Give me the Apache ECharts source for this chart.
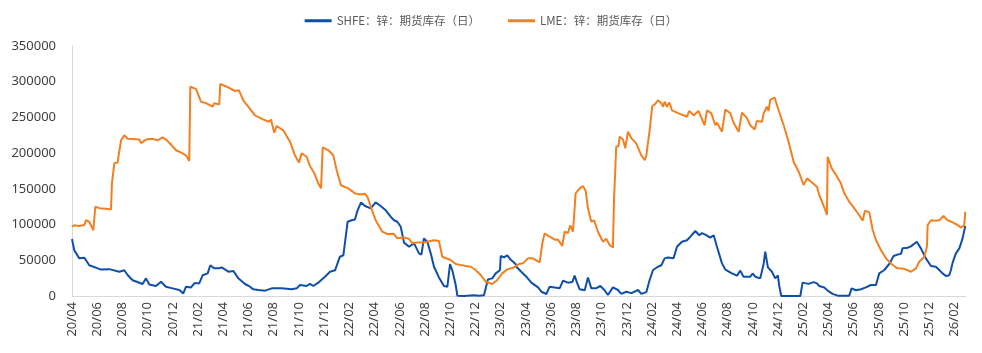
<!DOCTYPE html>
<html>
<head>
<meta charset="utf-8">
<script src="https://cdn.jsdelivr.net/npm/echarts@6/dist/echarts.min.js"></script>
<style>
  html, body { margin: 0; padding: 0; background: #fff; }
  #chart { width: 982px; height: 353px; }
</style>
</head>
<body>
<div id="chart"></div>
<script>
// 序列名称
const seriesNames = ['SHFE：锌：期货库存（日）', 'LME：锌：期货库存（日）'];

// x = 自 2020/04 起的月数, y = 吨
const shfeData = [
  [0, 79800], [0.18, 64000], [0.58, 52700], [0.98, 53600], [1.37, 43000], [2.04, 38700], [2.3, 37000],
  [2.96, 37600], [3.75, 34000], [4.15, 36000], [4.41, 29400], [4.81, 22000], [5.6, 16800], [5.87, 24700],
  [6.13, 16000], [6.66, 14000], [7.06, 20000], [7.45, 13000], [7.98, 10700], [8.51, 8400], [8.83, 3700],
  [9.04, 13000], [9.44, 12000], [9.7, 17700], [10.1, 18000], [10.36, 29000], [10.76, 31700], [10.97, 43000],
  [11.28, 38700], [11.68, 39000], [11.87, 40000], [12.4, 34000], [12.8, 35000], [13.19, 24700], [13.72, 16800],
  [14.12, 13000], [14.38, 9300], [14.78, 8400], [15.31, 7500], [15.84, 10700], [16.63, 10700], [17.42, 9500],
  [17.82, 10700], [18.08, 15400], [18.61, 14000], [18.87, 17000], [19.14, 14000], [19.53, 18700], [20.06, 27000],
  [20.46, 34000], [20.86, 36000], [21.25, 55000], [21.52, 57000], [21.86, 104000], [22.18, 106000], [22.44, 107000],
  [22.65, 120000], [22.92, 131000], [23.24, 126000], [23.69, 122700], [24.08, 131000], [24.48, 126000],
  [24.88, 120000], [25.27, 111000], [25.54, 106000], [25.8, 104000], [26.07, 97000], [26.33, 74700], [26.73, 69000],
  [27.13, 73700], [27.52, 59700], [27.71, 58000], [27.91, 80700], [28.18, 76000], [28.45, 59700], [28.71, 41000],
  [29.1, 26000], [29.5, 14000], [29.77, 13000], [29.98, 44800], [30.16, 36000], [30.43, 15400], [30.56, 500],
  [31.09, 0], [31.88, 1000], [32.01, 3700], [32.28, 500], [32.67, 1000], [32.99, 23300], [33.33, 24700],
  [33.6, 31700], [33.94, 36000], [34.0, 56000], [34.25, 54000], [34.52, 57000], [34.78, 51000], [35.18, 44800],
  [35.24, 41000], [35.63, 34000], [36.03, 27000], [36.43, 18700], [36.96, 12000], [37.22, 6000], [37.62, 2800],
  [37.88, 13000], [38.28, 12000], [38.68, 11000], [38.94, 21500], [39.33, 18700], [39.68, 19500], [39.86, 28500],
  [40.05, 18700], [40.26, 9300], [40.66, 8000], [40.92, 26000], [41.18, 11000], [41.58, 11000], [41.9, 14000],
  [42.24, 8000], [42.5, 1400], [42.9, 12000], [43.3, 8400], [43.56, 3000], [43.96, 6000], [44.36, 4000],
  [44.89, 8400], [45.15, 3000], [45.55, 5500], [45.81, 22400], [46.08, 36400], [46.47, 41000], [46.74, 43000],
  [47.0, 52700], [47.26, 54000], [47.71, 53000], [47.98, 69000], [48.37, 76000], [48.77, 78000], [49.04, 83000],
  [49.43, 91000], [49.75, 85000], [49.96, 88000], [50.22, 86000], [50.62, 81700], [50.89, 85000], [51.15, 69000],
  [51.55, 45700], [51.81, 37000], [52.34, 31700], [52.74, 28500], [53.0, 35500], [53.26, 27000], [53.79, 27000],
  [53.98, 31500], [54.19, 27000], [54.58, 24700], [54.85, 44800], [54.98, 62000], [55.19, 40000], [55.51, 34000],
  [55.77, 24700], [55.98, 29000], [56.09, 14000], [56.25, 0], [57.76, 0], [57.94, 18700], [58.42, 17000],
  [58.81, 19500], [59.08, 17700], [59.26, 14000], [59.66, 12000], [59.93, 7500], [60.32, 3000], [60.72, 500],
  [61.64, 500], [61.83, 10700], [62.17, 8000], [62.57, 9500], [62.96, 12000], [63.36, 15400], [63.76, 15400],
  [64.02, 31700], [64.42, 36400], [64.81, 44800], [65.16, 56000], [65.47, 58000], [65.74, 59000], [65.87, 66700],
  [66.26, 67500], [66.53, 69500], [67.0, 76000], [67.32, 66700], [67.72, 52700], [68.12, 42000], [68.51, 41000],
  [68.78, 36400], [69.04, 31700], [69.31, 28000], [69.57, 29000], [69.7, 36000], [69.84, 46700], [70.1, 59700],
  [70.37, 66700], [70.63, 80700], [70.84, 98000]
];

const lmeData = [
  [0, 97000], [0.18, 99000], [0.58, 98000], [0.98, 99500], [1.11, 106000], [1.37, 104000], [1.69, 92000],
  [1.85, 125000], [2.17, 123000], [2.7, 122000], [3.09, 121000], [3.17, 158000], [3.36, 186000], [3.62, 187000],
  [3.7, 197000], [3.89, 218000], [4.15, 225000], [4.41, 220000], [5.34, 219000], [5.47, 214000], [5.87, 219000],
  [6.39, 220000], [6.79, 218000], [7.19, 222000], [7.45, 219000], [7.85, 212000], [8.25, 204000], [8.51, 202000],
  [9.04, 197000], [9.3, 189000], [9.38, 293000], [9.83, 290000], [10.23, 272000], [10.62, 270000], [11.16, 265000],
  [11.28, 270000], [11.68, 268000], [11.76, 297000], [12.27, 293000], [12.93, 287000], [13.24, 288000],
  [13.59, 274000], [13.98, 265000], [14.51, 253000], [15.31, 246000], [15.62, 244000], [15.78, 247000],
  [16.04, 228700], [16.23, 238000], [16.76, 232000], [17.29, 216000], [17.68, 197000], [18.0, 186700],
  [18.21, 199700], [18.61, 195000], [18.87, 182000], [19.22, 171700], [19.53, 157700], [19.75, 150700],
  [19.88, 208000], [20.33, 204000], [20.72, 197000], [20.99, 176000], [21.33, 155000], [21.91, 150700],
  [22.44, 143700], [22.84, 142000], [23.24, 143000], [23.45, 138000], [23.74, 122700], [24.08, 106000],
  [24.61, 90000], [25.0, 86800], [25.53, 87000], [25.8, 80700], [26.33, 82000], [26.73, 80000], [26.99, 73700],
  [27.4, 75000], [27.91, 75000], [28.71, 78000], [29.1, 77000], [29.37, 55000], [30.03, 50400], [30.43, 44800],
  [31.09, 42500], [31.62, 41000], [32.01, 36400], [32.41, 29400], [32.81, 20000], [33.33, 16800], [33.73, 22400],
  [34.12, 31700], [34.52, 37300], [35.05, 40000], [35.45, 44800], [35.77, 45700], [36.16, 52700], [36.56, 52700],
  [37.09, 47000], [37.3, 73700], [37.48, 87700], [37.88, 83000], [38.28, 78800], [38.54, 79000], [38.88, 70000],
  [39.07, 90000], [39.33, 88000], [39.52, 99000], [39.73, 90000], [39.94, 143700], [40.26, 150700],
  [40.52, 154000], [40.74, 147000], [40.92, 122700], [41.18, 104000], [41.4, 106000], [41.71, 90000],
  [42.11, 76000], [42.37, 80000], [42.64, 71400], [42.9, 68000], [42.98, 132000], [43.1, 133000],
  [43.16, 209000], [43.35, 210000], [43.43, 223000], [43.7, 219000], [43.88, 206700], [44.09, 230000],
  [44.36, 221000], [44.75, 213700], [45.15, 197000], [45.42, 190000], [45.55, 197000], [45.68, 197000],
  [45.81, 232000], [46.02, 266000], [46.2, 268000], [46.47, 274000], [46.74, 270000], [46.87, 265000],
  [47.0, 272000], [47.18, 265000], [47.37, 271000], [47.58, 260000], [48.11, 255700], [48.77, 251000],
  [48.95, 259000], [49.3, 253000], [49.69, 259000], [50.17, 239000], [50.36, 260000], [50.7, 255700],
  [51.02, 239000], [51.15, 242700], [51.55, 230000], [51.81, 261000], [52.2, 256000], [52.47, 242700],
  [52.87, 230000], [53.13, 256700], [53.53, 249000], [53.79, 239000], [54.14, 233000], [54.32, 245000],
  [54.72, 244000], [54.85, 255700], [55.11, 265000], [55.24, 259000], [55.38, 275000], [55.72, 277700],
  [56.04, 260000], [56.44, 239000], [56.83, 216000], [57.23, 188000], [57.63, 174000], [58.02, 155400],
  [58.29, 164700], [58.68, 159000], [59.08, 153000], [59.26, 141400], [59.53, 129700], [59.79, 118000],
  [59.87, 113400], [59.93, 195000], [60.06, 193000], [60.25, 178700], [60.59, 169400], [60.98, 157700],
  [61.25, 143700], [61.64, 132000], [62.04, 122700], [62.43, 113400], [62.7, 105500], [62.89, 119500],
  [63.23, 117000], [63.5, 92400], [63.76, 78400], [64.15, 64400], [64.55, 52700], [65.08, 43400],
  [65.47, 38700], [66.0, 38000], [66.53, 34000], [66.93, 38700], [67.19, 48000], [67.59, 55000], [67.8, 69000],
  [67.86, 99400], [68.12, 106000], [68.51, 105500], [68.78, 106000], [69.12, 112000], [69.44, 106000],
  [69.84, 103000], [70.23, 99400], [70.5, 95700], [70.76, 99000], [70.84, 118000]
];

// 月序号 -> yy/mm
function monthLabel(v) {
  if (Math.abs(v - Math.round(v)) > 1e-6) return '';
  let m = Math.round(v);
  if (m % 2 !== 0) return '';
  let idx = 3 + m;
  let yy = 20 + Math.floor(idx / 12);
  let mm = (idx % 12) + 1;
  return yy + '/' + (mm < 10 ? '0' + mm : mm);
}

let myChart = echarts.init(document.getElementById('chart'));
let option = {
  animation: false,
  color: ['#0F4FA8', '#F28020'],
  legend: {
    top: 10,
    left: 'center',
    icon: 'rect',
    itemWidth: 27,
    itemHeight: 3,
    itemGap: 28,
    textStyle: {
      fontFamily: 'Noto Sans CJK SC',
      fontSize: 11.5,
      color: '#595959'
    },
    data: seriesNames
  },
  grid: {
    left: 72,
    right: 16,
    top: 46,
    bottom: 57
  },
  xAxis: {
    type: 'value',
    min: 0,
    max: 70.9,
    interval: 2,
    axisLine: { show: true, lineStyle: { color: '#d9d9d9', width: 1 } },
    axisTick: { show: false },
    splitLine: { show: false },
    axisLabel: {
      rotate: 90,
      margin: 6,
      showMaxLabel: false,
      fontFamily: 'Noto Sans',
      fontSize: 13,
      color: '#404040',
      formatter: monthLabel
    }
  },
  yAxis: {
    type: 'value',
    min: 0,
    max: 350000,
    interval: 50000,
    axisLine: { show: true, lineStyle: { color: '#d9d9d9', width: 1 } },
    axisTick: { show: false },
    splitLine: { show: false },
    axisLabel: {
      margin: 16,
      fontFamily: 'Noto Sans',
      fontSize: 13,
      color: '#404040',
      formatter: function (v) { return String(v); }
    }
  },
  series: [
    {
      name: seriesNames[0],
      type: 'line',
      showSymbol: false,
      lineStyle: { width: 2 },
      data: shfeData
    },
    {
      name: seriesNames[1],
      type: 'line',
      showSymbol: false,
      lineStyle: { width: 2 },
      data: lmeData
    }
  ]
};
myChart.setOption(option);
</script>
</body>
</html>
